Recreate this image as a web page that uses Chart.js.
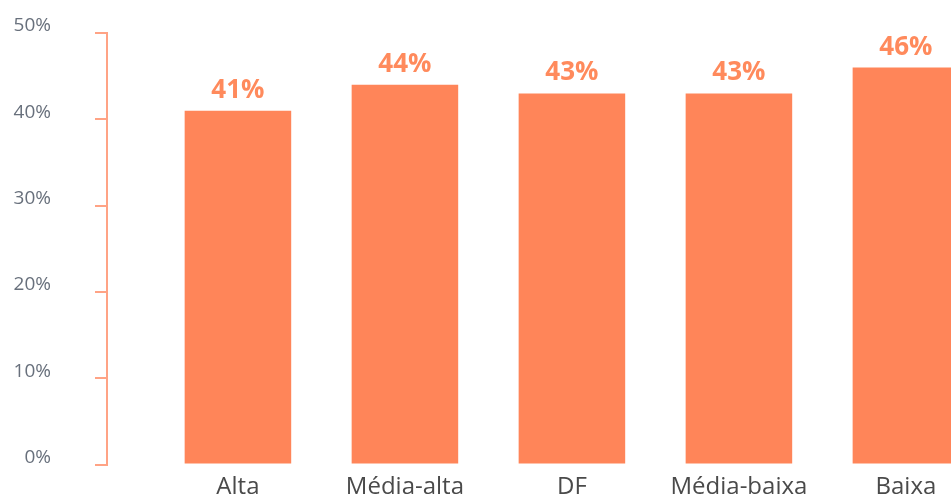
<!DOCTYPE html>
<html>
<head>
<meta charset="utf-8">
<script src="https://cdn.jsdelivr.net/npm/chart.js@4/dist/chart.umd.min.js"></script>
<style>
  html, body { margin: 0; padding: 0; background: #fff; overflow: hidden; }
  #wrap { width: 951px; height: 502px; position: relative; }
</style>
</head>
<body>
<div id="wrap"><canvas id="grafik"></canvas></div>
<script>
// data dari gambar
const categories = ['Alta', 'Média-alta', 'DF', 'Média-baixa', 'Baixa'];
const values = [41, 44, 43, 43, 46];
const yTicks = [0, 10, 20, 30, 40, 50];

const orange = '#FF8559';
const axisColor = '#FFA385';

// plugin kecil untuk label di atas batang
const barLabels = {
  id: 'barLabels',
  afterDatasetsDraw(chart) {
    const ctx = chart.ctx;
    const meta = chart.getDatasetMeta(0);
    ctx.save();
    ctx.font = 'bold 26px "Open Sans"';
    ctx.fillStyle = '#FF8A5C';
    ctx.textAlign = 'center';
    ctx.textBaseline = 'alphabetic';
    meta.data.forEach((bar, i) => {
      ctx.fillText(values[i] + '%', bar.x, bar.y - 13);
    });
    ctx.restore();
  }
};

const ctx = document.getElementById('grafik').getContext('2d');
new Chart(ctx, {
  type: 'bar',
  data: {
    datasets: [{
      data: values.map((v, i) => ({ x: i, y: v })),
      backgroundColor: orange,
      borderWidth: 0,
      categoryPercentage: 1,
      barPercentage: 0.638
    }]
  },
  options: {
    responsive: true,
    maintainAspectRatio: false,
    animation: false,
    layout: { padding: { top: 33, left: 0, right: 0, bottom: 0 } },
    plugins: {
      legend: { display: false },
      tooltip: { enabled: false }
    },
    scales: {
      x: {
        type: 'linear',
        offset: false,
        min: -0.784,
        max: 4.27,
        afterBuildTicks: (scale) => { scale.ticks = categories.map((c, i) => ({ value: i })); },
        afterFit: (scale) => {
          scale.height = 37.5;
          scale.paddingLeft = 0;
          scale.paddingRight = 0;
        },
        grid: { display: false, drawTicks: false, offset: false },
        border: { display: false },
        ticks: {
          autoSkip: false,
          maxRotation: 0,
          padding: 8,
          color: '#4a4a4a',
          font: { family: '"Open Sans"', size: 24 },
          callback: (v) => categories[v]
        }
      },
      y: {
        min: yTicks[0],
        max: yTicks[yTicks.length - 1],
        afterFit: (scale) => {
          scale.width = 107;
          scale.paddingTop = 0;
          scale.paddingBottom = 0;
        },
        afterBuildTicks: (scale) => { scale.ticks = yTicks.map(v => ({ value: v })); },
        grid: {
          drawOnChartArea: false,
          drawTicks: true,
          tickLength: 12,
          color: axisColor,
          lineWidth: 2
        },
        border: { display: true, color: axisColor, width: 2 },
        ticks: {
          padding: 44,
          labelOffset: -7,
          color: '#68707c',
          font: { family: '"Open Sans"', size: 19 },
          callback: (v) => v + '%'
        }
      }
    }
  },
  plugins: [barLabels]
});
</script>
</body>
</html>
